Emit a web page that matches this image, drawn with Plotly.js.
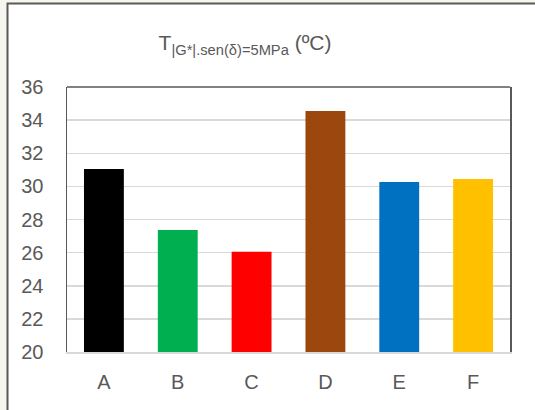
<!DOCTYPE html>
<html>
<head>
<meta charset="utf-8">
<script src="https://cdn.plot.ly/plotly-3.0.1.min.js"></script>
<style>html,body{margin:0;padding:0;background:#f7f6ee;}#chart{width:535px;height:410px;}</style>
</head>
<body>
<div id="chart"></div>
<script>
const categories = ['A', 'B', 'C', 'D', 'E', 'F'];
const values = [31.05, 27.37, 26.06, 34.55, 30.26, 30.44];
const barColors = ['#000000', '#00b050', '#ff0000', '#9c470d', '#0070c0', '#ffc000'];
const yTicks = [20, 22, 24, 26, 28, 30, 32, 34, 36];

const W = 535, H = 410;
const m = {l: 67, r: 25, t: 87, b: 58};
const pw = W - m.l - m.r, ph = H - m.t - m.b;
const px = x => (x - m.l) / pw;
const py = y => (H - m.b - y) / ph;

const trace = {
  type: 'bar',
  x: categories,
  y: values,
  marker: {color: barColors, line: {width: 0}},
  hoverinfo: 'x+y'
};

const layout = {
  width: W, height: H,
  margin: m,
  paper_bgcolor: '#f7f6ee',
  plot_bgcolor: 'rgba(0,0,0,0)',
  bargap: 0.46,
  showlegend: false,
  font: {family: 'Liberation Sans, Arial, sans-serif', color: '#595959'},
  title: {
    text: 'T<sub>|G*|.sen(δ)=5MPa</sub> (ºC)',
    font: {size: 21, color: '#595959'},
    xref: 'container', x: 0.458, xanchor: 'center',
    yref: 'container', y: 1 - 43 / H, yanchor: 'middle'
  },
  xaxis: {
    showgrid: false, zeroline: false,
    showline: true, linecolor: '#d9d9d9', linewidth: 2,
    ticks: '', tickfont: {size: 20, color: '#595959'},
    ticklabelstandoff: 11
  },
  yaxis: {
    range: [20, 36], tickvals: yTicks,
    showgrid: true, gridcolor: '#d9d9d9', gridwidth: 1.5,
    zeroline: false,
    showline: true, linecolor: '#595959', linewidth: 1.5, mirror: true,
    ticks: '', tickfont: {size: 20, color: '#595959'},
    ticklabelstandoff: 18
  },
  shapes: [
    {type: 'rect', xref: 'paper', yref: 'paper', layer: 'below',
     x0: px(7.5), x1: px(560), y0: py(3.5), y1: py(440),
     fillcolor: '#ffffff', line: {color: '#595959', width: 2}},
    {type: 'line', xref: 'paper', yref: 'paper', layer: 'above',
     x0: 0, x1: 1, y0: 1, y1: 1, line: {color: '#595959', width: 1.5}}
  ]
};

Plotly.newPlot('chart', [trace], layout, {displayModeBar: false, staticPlot: true});
</script>
</body>
</html>
